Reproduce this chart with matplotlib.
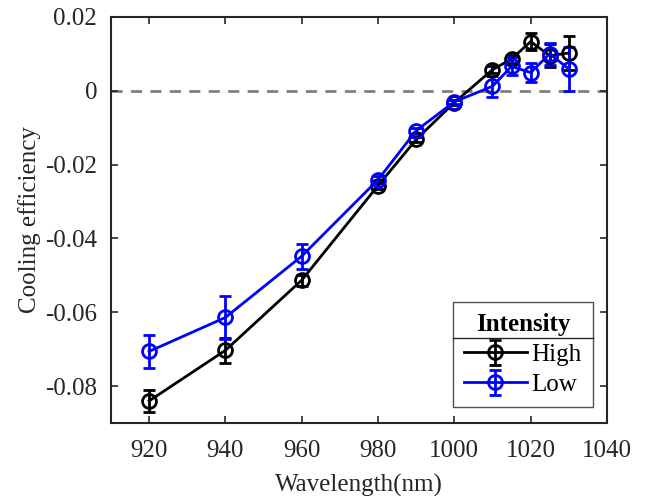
import matplotlib
matplotlib.use("Agg")
import matplotlib.pyplot as plt
from matplotlib.lines import Line2D

plt.rcParams['font.family'] = ['Liberation Serif', 'DejaVu Serif']

wavelength = [920, 940, 960, 980, 990, 1000, 1010, 1015, 1020, 1025, 1030]
high = [-0.0840, -0.0703, -0.0513, -0.0257, -0.0132, -0.0032, 0.0057, 0.0086, 0.0133, 0.0095, 0.0102]
high_err = [0.0030, 0.0033, 0.0015, 0.0008, 0.0008, 0.0006, 0.0010, 0.0010, 0.0023, 0.0032, 0.0045]
low = [-0.0706, -0.0614, -0.0448, -0.0241, -0.0108, -0.0030, 0.0012, 0.0066, 0.0049, 0.0100, 0.0059]
low_err = [0.0044, 0.0058, 0.0034, 0.0010, 0.0008, 0.0006, 0.0028, 0.0024, 0.0025, 0.0030, 0.0060]

xticks = [920, 940, 960, 980, 1000, 1020, 1040]
yticks = [-0.08, -0.06, -0.04, -0.02, 0, 0.02]
yticklabels = ['-0.08', '-0.06', '-0.04', '-0.02', '0', '0.02']

fig = plt.figure(figsize=(6.45, 4.96), dpi=100)
ax = fig.add_axes([0.172, 0.147, 0.769, 0.819])

ax.axhline(0, color='#808080', lw=2, ls=(0, (4, 3)), zorder=1)

kw = dict(marker='o', markersize=10, mfc='none', mew=2, lw=2, elinewidth=2,
          capsize=4.5, capthick=2.5, zorder=3)
ax.errorbar(wavelength, high, yerr=high_err, color='black', label='High', **kw)
ax.errorbar(wavelength, low, yerr=low_err, color='blue', label='Low', **kw)

ax.set_xlim(910, 1040)
ax.set_ylim(-0.09, 0.02)
ax.set_xticks(xticks)
ax.set_yticks(yticks)
ax.set_yticklabels(yticklabels)
ax.tick_params(direction='in', top=True, right=True, labelsize=18, length=5,
               width=1.2, color='#262626', labelcolor='#262626')
ax.tick_params(axis='x', pad=12)
ax.tick_params(axis='y', pad=10)
for s in ax.spines.values():
    s.set_linewidth(1.5)
    s.set_color('#262626')

ax.set_xlabel('Wavelength(nm)', fontsize=18, color='#262626', labelpad=9)
ax.set_ylabel('Cooling efficiency', fontsize=18, color='#262626', labelpad=3)

leg = ax.legend(title='Intensity', loc='lower right', bbox_to_anchor=(0.972, 0.039),
                fontsize=18, title_fontproperties={'weight': 'bold', 'size': 18},
                frameon=True, fancybox=False, edgecolor='#262626', handlelength=2.5,
                handletextpad=0.2, borderpad=0.45, labelspacing=0.3, borderaxespad=0)
leg.get_frame().set_linewidth(1.0)
leg.get_frame().set_boxstyle('square', pad=0)

fig.canvas.draw()
bb = leg.get_window_extent()
tb = leg.get_title().get_window_extent()
inv = fig.transFigure.inverted()
(x0, y0), (x1, y1) = inv.transform([[bb.x0, bb.y0], [bb.x1, bb.y1]])
ysep = inv.transform([[0, tb.y0 - 2]])[0][1]
fig.add_artist(Line2D([x0, x1], [ysep, ysep], transform=fig.transFigure,
                      color='#262626', lw=1.0, zorder=10))

fig.savefig('out.png', dpi=100)
